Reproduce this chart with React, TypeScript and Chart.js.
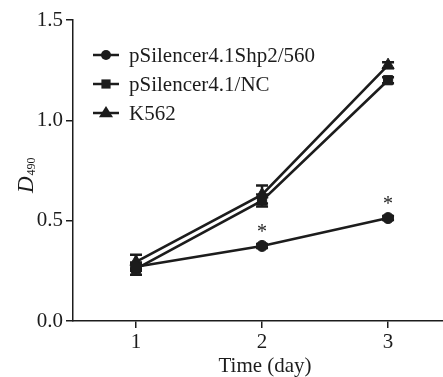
import React, { useEffect, useRef } from "react";
import { Chart, registerables } from "chart.js";

Chart.register(...registerables);

const days = [1, 2, 3];
const shp2Values = [0.27, 0.374, 0.513];
const shp2Errors = [0.02, 0.01, 0.01];
const ncValues = [0.26, 0.6, 1.2];
const ncErrors = [0.03, 0.03, 0.015];
const k562Values = [0.295, 0.63, 1.275];
const k562Errors = [0.035, 0.045, 0.015];
const seriesLabels = ["pSilencer4.1Shp2/560", "pSilencer4.1/NC", "K562"];
const significantDays = [2, 3];
const yTicks = [0, 0.5, 1.0, 1.5];
const xTitle = "Time (day)";

const INK = "#1c1c1c";
const FONT = "'Liberation Serif', 'Times New Roman', serif";
const CANVAS_W = 451;

function marker(ctx: CanvasRenderingContext2D, style: string, r: number, x: number, y: number) {
  ctx.beginPath();
  if (style === "circle") {
    ctx.arc(x, y, r, 0, Math.PI * 2);
  } else if (style === "rect") {
    const s = r * Math.SQRT1_2;
    ctx.rect(x - s, y - s, 2 * s, 2 * s);
  } else {
    const half = r;
    ctx.moveTo(x, y - r);
    ctx.lineTo(x + half, y + r * 0.6);
    ctx.lineTo(x - half, y + r * 0.6);
    ctx.closePath();
  }
  ctx.fill();
}

export default function App() {
  const ref = useRef<HTMLCanvasElement | null>(null);

  useEffect(() => {
    document.body.style.margin = "0";
    const canvas = ref.current;
    if (!canvas) return;

    const errors = [shp2Errors, ncErrors, k562Errors];

    const errorBars = {
      id: "errorBars",
      beforeDatasetsDraw(chart: any) {
        const { ctx } = chart;
        const ys = chart.scales.y;
        chart.data.datasets.forEach((ds: any, i: number) => {
          const meta = chart.getDatasetMeta(i);
          meta.data.forEach((pt: any, j: number) => {
            const v = ds.data[j].y;
            const e = errors[i][j];
            const top = ys.getPixelForValue(v + e);
            const bot = ys.getPixelForValue(v - e);
            ctx.save();
            ctx.strokeStyle = INK;
            ctx.lineWidth = 2.5;
            ctx.beginPath();
            ctx.moveTo(pt.x, top);
            ctx.lineTo(pt.x, bot);
            ctx.moveTo(pt.x - 6, top);
            ctx.lineTo(pt.x + 6, top);
            ctx.moveTo(pt.x - 6, bot);
            ctx.lineTo(pt.x + 6, bot);
            ctx.stroke();
            ctx.restore();
          });
        });
      },
    };

    const extras = {
      id: "extras",
      afterDraw(chart: any) {
        const { ctx } = chart;
        const xs = chart.scales.x;
        const ys = chart.scales.y;
        ctx.save();
        // asterisks
        ctx.fillStyle = INK;
        ctx.font = `20px ${FONT}`;
        ctx.textAlign = "center";
        ctx.textBaseline = "middle";
        significantDays.forEach((d) => {
          const idx = days.indexOf(d);
          const px = xs.getPixelForValue(d);
          const py = ys.getPixelForValue(shp2Values[idx]) - 17;
          ctx.fillText("*", px, py + 4);
        });

        // x axis title
        ctx.font = `21px ${FONT}`;
        ctx.textAlign = "center";
        ctx.textBaseline = "alphabetic";
        ctx.fillText(xTitle, xs.getPixelForValue(2) + 3, 372);

        // legend
        const rows = [55, 84, 113];
        const styles = ["circle", "rect", "triangle"];
        const radii = [5, 6.5, 7];
        chart.data.datasets.forEach((ds: any, i: number) => {
          const y = rows[i];
          ctx.strokeStyle = INK;
          ctx.lineWidth = 2.5;
          ctx.beginPath();
          ctx.moveTo(93, y);
          ctx.lineTo(119, y);
          ctx.stroke();
          ctx.fillStyle = INK;
          marker(ctx, styles[i], radii[i], 106, y);
          ctx.fillStyle = INK;
          ctx.font = `21px ${FONT}`;
          ctx.textAlign = "left";
          ctx.textBaseline = "alphabetic";
          ctx.fillText(ds.label, 129, y + 7);
        });

        // y axis title: D with subscript 490
        ctx.translate(33, 193);
        ctx.rotate(-Math.PI / 2);
        ctx.fillStyle = INK;
        ctx.textAlign = "left";
        ctx.textBaseline = "alphabetic";
        ctx.font = `italic 23px ${FONT}`;
        ctx.fillText("D", 0, 0);
        const w = ctx.measureText("D").width;
        ctx.font = `12px ${FONT}`;
        ctx.fillText("490", w + 1, 2);
        ctx.restore();
      },
    };

    const mk = (vals: number[]) => days.map((d, i) => ({ x: d, y: vals[i] }));
    const common = {
      borderColor: INK,
      backgroundColor: INK,
      pointBackgroundColor: INK,
      pointBorderColor: INK,
      borderWidth: 2.6,
      pointBorderWidth: 1,
      tension: 0,
    };

    const chart = new Chart(canvas, {
      type: "line",
      data: {
        datasets: [
          { ...common, label: seriesLabels[0], data: mk(shp2Values), pointStyle: "circle", pointRadius: 5.5 },
          { ...common, label: seriesLabels[1], data: mk(ncValues), pointStyle: "rect", pointRadius: 6.5 },
          { ...common, label: seriesLabels[2], data: mk(k562Values), pointStyle: "triangle", pointRadius: 7 },
        ],
      },
      options: {
        animation: false,
        responsive: false,
        layout: { padding: { top: 20, left: 0, right: 0, bottom: 0 } },
        plugins: { legend: { display: false }, tooltip: { enabled: false } },
        scales: {
          x: {
            type: "linear",
            min: 0.5,
            max: 3.436,
            afterFit: (s: any) => {
              s.height = 56;
            },
            afterBuildTicks: (s: any) => {
              s.ticks = days.map((v) => ({ value: v }));
            },
            ticks: {
              color: INK,
              font: { family: FONT, size: 21 },
              padding: 2,
              callback: (v: any) => String(v),
            },
            grid: { drawOnChartArea: false, drawTicks: true, tickLength: 7, color: INK, lineWidth: 1.5 },
            border: { display: true, color: INK, width: 1.5 },
          },
          y: {
            min: 0,
            max: 1.5,
            afterFit: (s: any) => {
              s.width = 73;
            },
            afterBuildTicks: (s: any) => {
              s.ticks = yTicks.map((v) => ({ value: v }));
            },
            ticks: {
              color: INK,
              font: { family: FONT, size: 21 },
              padding: 3,
              callback: (v: any) => Number(v).toFixed(1),
            },
            grid: { drawOnChartArea: false, drawTicks: true, tickLength: 7, color: INK, lineWidth: 1.5 },
            border: { display: true, color: INK, width: 1.5 },
          },
        },
      },
      plugins: [errorBars, extras],
    });

    return () => chart.destroy();
  }, []);

  return (
    <div style={{ width: 443, height: 377, background: "#fff", overflow: "hidden" }}>
      <canvas ref={ref} width={CANVAS_W} height={377} style={{ display: "block" }} />
    </div>
  );
}
